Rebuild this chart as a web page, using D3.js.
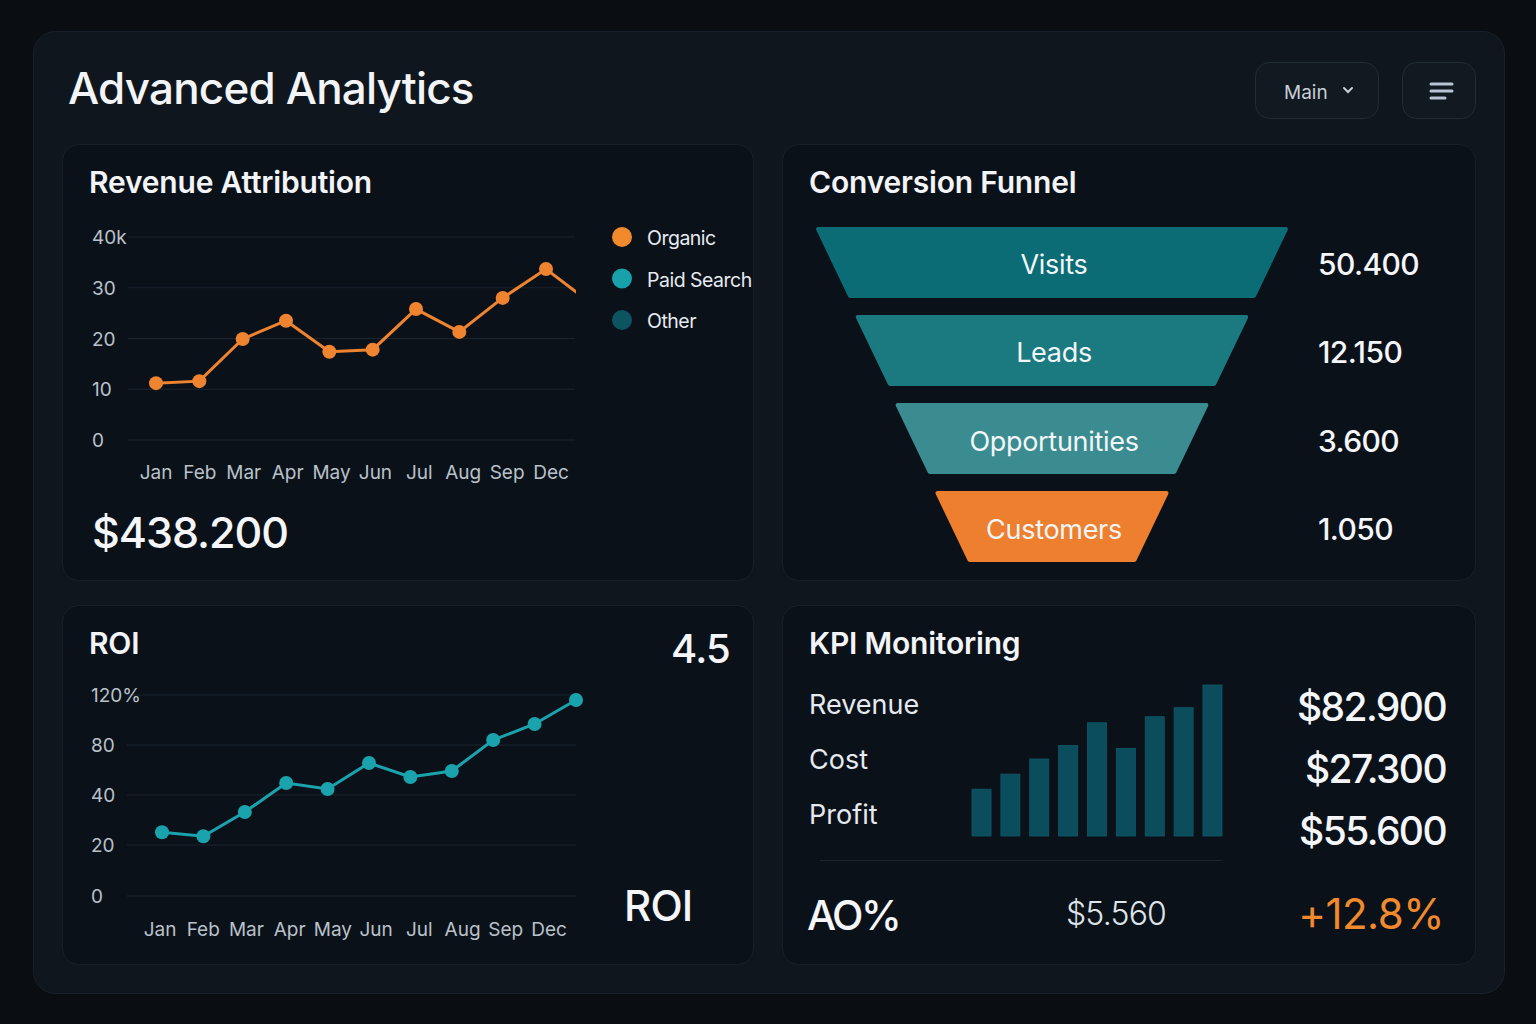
<!DOCTYPE html>
<html lang="en">
<head>
<meta charset="UTF-8">
<title>Advanced Analytics</title>
<style>
    body { margin: 0; background: #0a0e13; }
    svg { display: block; font-family: "Inter", "Noto Sans", sans-serif; }
</style>
</head>
<body>
<svg id="dash" width="1536" height="1024"></svg>
<script src="https://d3js.org/d3.v7.min.js"></script>
<script>
    // Revenue attribution (organic, in k) - last value runs off the chart edge
    const months = ["Jan", "Feb", "Mar", "Apr", "May", "Jun", "Jul", "Aug", "Sep", "Dec"];
    const organic = [11.2, 11.6, 19.9, 23.5, 17.4, 17.8, 25.8, 21.3, 28.0, 33.7, 27.2];
    const revTicks = [0, 10, 20, 30, 40];
    const revTickLabels = ["0", "10", "20", "30", "40k"];
    const legendItems = ["Organic", "Paid Search", "Other"];
    const legendColors = ["#f08a2c", "#17a2ab", "#0c5460"];

    // Funnel
    const stages = ["Visits", "Leads", "Opportunities", "Customers"];
    const stageValues = ["50.400", "12.150", "3.600", "1.050"];
    const stageColors = ["#0b6c76", "#1b7a80", "#3b8c90", "#ee7f2e"];

    // ROI (%)
    const roi = [25.1, 23.5, 33.2, 49.6, 44.8, 65.6, 54.4, 59.2, 84.0, 96.8, 116.0];
    const roiTicks = [0, 20, 40, 80, 120];
    const roiTickLabels = ["0", "20", "40", "80", "120%"];

    // KPI
    const kpiLabels = ["Revenue", "Cost", "Profit"];
    const kpiValues = ["$82.900", "$27.300", "$55.600"];
    const kpiBars = [31, 41, 51, 60, 75, 58, 79, 85, 100];

    const svg = d3.select("#dash");

    // outer panel
    svg.append("rect").attr("x", 33.5).attr("y", 31.5).attr("width", 1471).attr("height", 962)
        .attr("rx", 22).attr("fill", "#0f161d").attr("stroke", "#18212a");

    svg.append("text").attr("x", 68).attr("y", 104).attr("fill", "#f2f4f8")
        .style("font-size", "44px").style("font-weight", 500).style("letter-spacing", "-0.8px")
        .text("Advanced Analytics");

    // header buttons
    svg.append("rect").attr("x", 1255.5).attr("y", 62.5).attr("width", 123).attr("height", 56)
        .attr("rx", 14).attr("fill", "#111921").attr("stroke", "#222c36");
    svg.append("text").attr("x", 1284).attr("y", 99).attr("fill", "#c8cfd8")
        .style("font-size", "19px").text("Main");
    svg.append("path").attr("d", "M1344,88 l4,4 l4,-4").attr("fill", "none")
        .attr("stroke", "#c8cfd8").attr("stroke-width", 2).attr("stroke-linecap", "round");
    svg.append("rect").attr("x", 1402.5).attr("y", 62.5).attr("width", 73).attr("height", 56)
        .attr("rx", 14).attr("fill", "#111921").attr("stroke", "#222c36");
    [[1431, 1452, 84], [1431, 1452, 91], [1431, 1445, 98]].forEach(l => {
        svg.append("line").attr("x1", l[0]).attr("x2", l[1]).attr("y1", l[2]).attr("y2", l[2])
            .attr("stroke", "#b8c4d4").attr("stroke-width", 3).attr("stroke-linecap", "round");
    });

    // cards
    function card(x, y, w, h, title) {
        svg.append("rect").attr("x", x + 0.5).attr("y", y + 0.5).attr("width", w).attr("height", h)
            .attr("rx", 16).attr("fill", "#0b1119").attr("stroke", "#172029");
        svg.append("text").attr("x", x + 27).attr("y", y + 49).attr("fill", "#f2f4f8")
            .style("font-size", "30px").style("font-weight", 600).style("letter-spacing", "-0.2px")
            .text(title);
    }
    card(62, 144, 691, 436, "Revenue Attribution");
    card(782, 144, 693, 436, "Conversion Funnel");
    card(62, 605, 691, 359, "ROI");
    card(782, 605, 693, 359, "KPI Monitoring");

    // ---------- Revenue attribution line ----------
    const revY = d3.scaleLinear().domain([0, 40]).range([440, 237]);
    const revX = d3.scaleLinear().domain([0, 9]).range([156, 546]);
    const revLabelX = d3.scalePoint().domain(months).range([156, 551]);

    const revG = svg.append("g");
    revG.selectAll(".grid").data(revTicks).enter().append("line")
        .attr("x1", 128).attr("x2", 575)
        .attr("y1", d => revY(d)).attr("y2", d => revY(d))
        .attr("stroke", "#1b252f").attr("stroke-width", 1);
    revG.selectAll(".ylab").data(revTicks).enter().append("text")
        .attr("x", 92).attr("y", d => revY(d) + 7).attr("fill", "#b9c1ca")
        .style("font-size", "19px").text((d, i) => revTickLabels[i]);
    revG.selectAll(".xlab").data(months).enter().append("text")
        .attr("x", d => revLabelX(d)).attr("y", 479).attr("text-anchor", "middle")
        .attr("fill", "#b9c1ca").style("font-size", "19px").text(d => d);

    svg.append("clipPath").attr("id", "revClip").append("rect")
        .attr("x", 120).attr("y", 200).attr("width", 456).attr("height", 260);
    revG.append("path").datum(organic)
        .attr("clip-path", "url(#revClip)")
        .attr("d", d3.line().x((d, i) => revX(i)).y(d => revY(d)))
        .attr("fill", "none").attr("stroke", "#ee8430").attr("stroke-width", 3);
    revG.selectAll(".dot").data(organic.slice(0, months.length)).enter().append("circle")
        .attr("cx", (d, i) => revX(i)).attr("cy", d => revY(d)).attr("r", 7)
        .attr("fill", "#ee8430");

    // legend
    const leg = svg.append("g");
    leg.selectAll("circle").data(legendItems).enter().append("circle")
        .attr("cx", 622).attr("cy", (d, i) => 237 + i * 41.5).attr("r", 10)
        .attr("fill", (d, i) => legendColors[i]);
    leg.selectAll("text").data(legendItems).enter().append("text")
        .attr("x", 647).attr("y", (d, i) => 245 + i * 41.5).attr("fill", "#e6eaf0")
        .style("font-size", "19.5px").style("letter-spacing", "-0.5px").text(d => d);

    svg.append("text").attr("x", 92).attr("y", 548).attr("fill", "#f4f6f9")
        .style("font-size", "43px").style("font-weight", 500).style("letter-spacing", "-1px")
        .text("$438.200");

    // ---------- Conversion funnel ----------
    const fY = d3.scaleBand().domain(stages).range([229, 560]).paddingInner(0.24).paddingOuter(0);
    const fW = d3.scaleLinear().domain([0, stages.length - 1]).range([468, 229]);
    const fCx = 1052;
    const slant = 32;

    const funnel = svg.append("g");
    stages.forEach((s, i) => {
        const top = fY(s), bot = fY(s) + fY.bandwidth();
        const w = fW(i);
        const pts = [[fCx - w / 2, top], [fCx + w / 2, top], [fCx + w / 2 - slant, bot], [fCx - w / 2 + slant, bot]];
        funnel.append("path")
            .attr("d", d3.line().curve(d3.curveLinearClosed)(pts))
            .attr("fill", stageColors[i]).attr("stroke", stageColors[i])
            .attr("stroke-width", 4).attr("stroke-linejoin", "round");
        funnel.append("text").attr("x", fCx + 2).attr("y", (top + bot) / 2 + 12)
            .attr("text-anchor", "middle").attr("fill", "#f2f6f8")
            .style("font-size", "27px").style("letter-spacing", "-0.3px").text(s);
        funnel.append("text").attr("x", 1318).attr("y", (top + bot) / 2 + 13)
            .attr("fill", "#f4f6f9").style("font-size", "30px").style("font-weight", 500)
            .style("letter-spacing", "-0.6px").text(stageValues[i]);
    });

    // ---------- ROI ----------
    const roiY = d3.scaleLinear().domain(roiTicks).range([896, 845, 795, 745, 695]);
    const roiX = d3.scaleLinear().domain([0, roi.length - 1]).range([162, 576]);
    const roiLabelX = d3.scalePoint().domain(months).range([160, 549]);

    const roiG = svg.append("g");
    roiG.selectAll(".grid").data(roiTicks).enter().append("line")
        .attr("x1", 127).attr("x2", 576)
        .attr("y1", d => roiY(d)).attr("y2", d => roiY(d))
        .attr("stroke", "#1b252f");
    roiG.selectAll(".ylab").data(roiTicks).enter().append("text")
        .attr("x", 91).attr("y", d => roiY(d) + 7).attr("fill", "#b9c1ca")
        .style("font-size", "19px").text((d, i) => roiTickLabels[i]);
    roiG.selectAll(".xlab").data(months).enter().append("text")
        .attr("x", d => roiLabelX(d)).attr("y", 936).attr("text-anchor", "middle")
        .attr("fill", "#b9c1ca").style("font-size", "19px").text(d => d);
    roiG.append("path").datum(roi)
        .attr("d", d3.line().x((d, i) => roiX(i)).y(d => roiY(d)))
        .attr("fill", "none").attr("stroke", "#1ba3ad").attr("stroke-width", 3);
    roiG.selectAll(".dot").data(roi).enter().append("circle")
        .attr("cx", (d, i) => roiX(i)).attr("cy", d => roiY(d)).attr("r", 7)
        .attr("fill", "#1ba3ad");

    svg.append("text").attr("x", 730).attr("y", 663).attr("text-anchor", "end")
        .attr("fill", "#f4f6f9").style("font-size", "40px").style("font-weight", 500)
        .style("letter-spacing", "-0.8px").text("4.5");
    svg.append("text").attr("x", 624).attr("y", 921).attr("fill", "#f4f6f9")
        .style("font-size", "42px").style("font-weight", 500).style("letter-spacing", "-0.8px").text("ROI");

    // ---------- KPI monitoring ----------
    const kpi = svg.append("g");
    kpi.selectAll(".klab").data(kpiLabels).enter().append("text")
        .attr("x", 809).attr("y", (d, i) => 714 + i * 55).attr("fill", "#e6eaf0")
        .style("font-size", "27px").text(d => d);
    kpi.selectAll(".kval").data(kpiValues).enter().append("text")
        .attr("x", 1446).attr("y", (d, i) => 721 + i * 62).attr("text-anchor", "end")
        .attr("fill", "#f4f6f9").style("font-size", "39px").style("font-weight", 500)
        .style("letter-spacing", "-1.6px").text(d => d);

    const bX = d3.scaleBand().domain(d3.range(kpiBars.length)).range([972, 1222]).paddingInner(0.34);
    const bY = d3.scaleLinear().domain([0, 100]).range([836, 685]);
    kpi.selectAll(".bar").data(kpiBars).enter().append("rect")
        .attr("x", (d, i) => bX(i)).attr("y", d => bY(d))
        .attr("width", bX.bandwidth()).attr("height", d => bY(0) - bY(d))
        .attr("fill", "#0b4d5c").attr("stroke", "#0e5868").attr("stroke-width", 0.8);
    kpi.append("line").attr("x1", 820).attr("x2", 1222).attr("y1", 860.5).attr("y2", 860.5)
        .attr("stroke", "#1b252f");

    svg.append("text").attr("x", 807).attr("y", 930).attr("fill", "#f4f6f9")
        .style("font-size", "41px").style("font-weight", 500).style("letter-spacing", "-2.5px").text("AO%");
    svg.append("text").attr("x", 1116).attr("y", 925).attr("text-anchor", "middle")
        .attr("fill", "#dfe4ea").style("font-size", "32px").style("font-weight", 300)
        .style("letter-spacing", "-0.8px").text("$5.560");
    svg.append("text").attr("x", 1444).attr("y", 929).attr("text-anchor", "end")
        .attr("fill", "#f08a2c").style("font-size", "42px").style("letter-spacing", "-0.5px").text("+12.8%");
</script>
</body>
</html>
